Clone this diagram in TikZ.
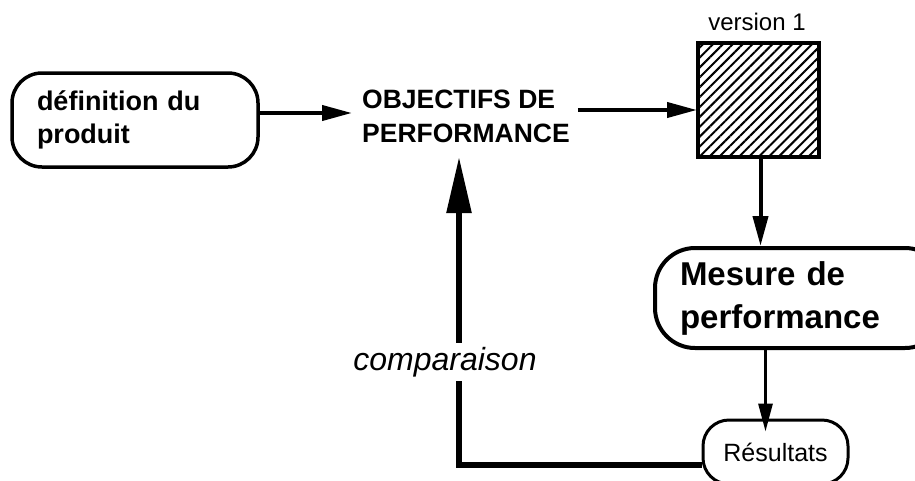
\documentclass[tikz,border=0pt]{standalone}
\usepackage{fontspec}
\setmainfont{Liberation Sans}
\usetikzlibrary{arrows.meta,patterns.meta,calc}
\begin{document}
\begin{tikzpicture}[x=1pt,y=-1pt,
  arr/.style={line width=4pt,-{Triangle[length=30pt,width=15pt]}},
  thinarr/.style={line width=3pt,-{Triangle[length=28pt,width=14pt]}},
  fbline/.style={line width=5.5pt,-{Triangle[length=56pt,width=24pt]}},
  roundbox/.style={draw,line width=3.5pt,align=left}]
\useasboundingbox (0,0) rectangle (915,480);

% nodes
\node[roundbox,rounded corners=30pt,minimum width=246pt,minimum height=94pt,
      text width=196pt,inner xsep=25pt,font=\bfseries\fontsize{27}{33}\selectfont]
      (def) at (135,120) {définition du\\produit};

\node[inner sep=0pt,align=left,anchor=base west,
      font=\bfseries\fontsize{26.5}{34}\selectfont]
      (obj) at (362,142) {OBJECTIFS DE\\PERFORMANCE};

\node[draw,line width=4pt,minimum width=121pt,minimum height=114pt,inner sep=0pt,
      pattern={Lines[angle=45,distance=7pt,line width=2pt]}]
      (ver) at (758.5,100) {};
\node[anchor=base,font=\fontsize{24}{26}\selectfont] (vlab) at (757,30) {version 1};

\node[roundbox,line width=4pt,rounded corners=40pt,minimum width=290pt,minimum height=100pt,
      text width=240pt,inner xsep=25pt,font=\bfseries\fontsize{33}{43}\selectfont]
      (mes) at (800,298) {Mesure de\\performance};

\node[draw,line width=3pt,rounded corners=26pt,minimum width=145pt,minimum height=64pt,
      font=\fontsize{25}{27}\selectfont]
      (res) at (775.5,452) {Résultats};

% connectors
\draw[arr] ([yshift=7pt]def.east) -- ([yshift=7pt]def.east -| obj.west)
  [shorten >=10pt];
\draw[arr,shorten <=8pt] ([yshift=-10pt]ver.west -| obj.east) -- ([yshift=-10pt]ver.west);
\draw[arr] ([xshift=2pt]ver.south) -- ([xshift=2pt]ver.south |- mes.north);
\draw[thinarr,shorten >=-13pt] ([xshift=-10pt]res.north |- mes.south) -- ([xshift=-10pt]res.north);

\coordinate (fbc) at (459,465);
\coordinate (fbtip) at (459,157);
\draw[fbline] (res.west |- fbc) -- (fbc) -- (fbtip);

\node[fill=white,inner xsep=2pt,inner ysep=4pt,font=\itshape\fontsize{32}{36}\selectfont]
      (comp) at (445,362) {comparaison};
\end{tikzpicture}
\end{document}
